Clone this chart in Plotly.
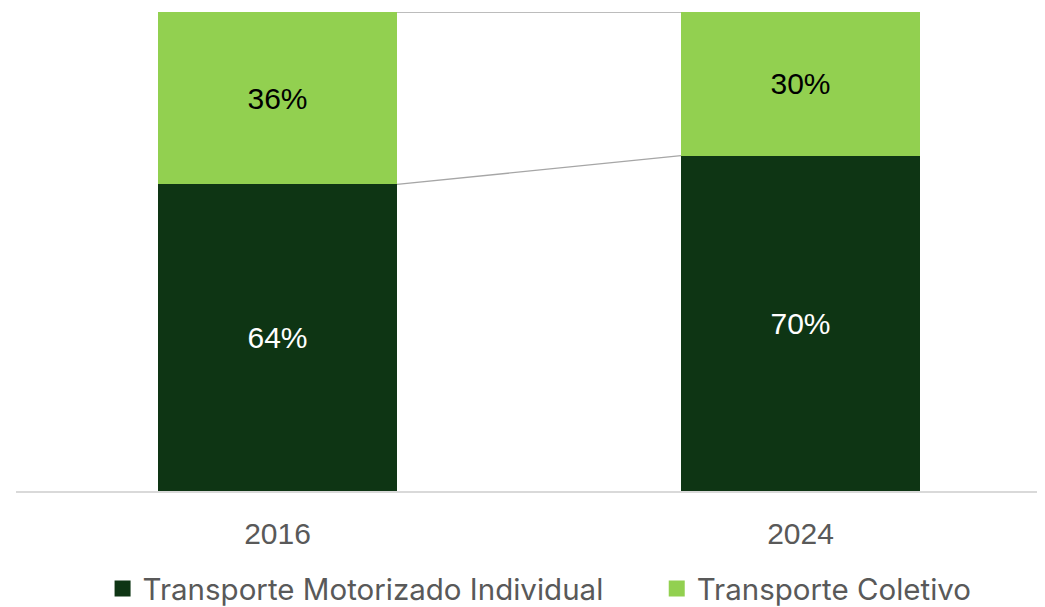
import plotly.graph_objects as go

years = ["2016", "2024"]
individual = [0.64, 0.70]
coletivo = [0.36, 0.30]
series_names = ["Transporte Motorizado Individual", "Transporte Coletivo"]
colors = ["#0E3514", "#92D050"]
label_colors = ["white", "black"]

BAR_W = 0.457
FONT = "Liberation Sans"

fig = go.Figure()
for name, vals, col, lc in zip(series_names, [individual, coletivo], colors, label_colors):
    fig.add_trace(go.Bar(
        x=years, y=vals, name=name, marker=dict(color=col, line=dict(width=0)),
        width=BAR_W, showlegend=False,
        text=[f"{round(v*100)}%" for v in vals],
        textposition="inside", insidetextanchor="middle",
        textfont=dict(color=lc, size=30, family=FONT),
        hoverinfo="skip",
    ))

# legend entries (square markers)
for i, (name, col) in enumerate(zip(series_names, colors)):
    fig.add_trace(go.Scatter(
        x=[None], y=[None], mode="markers", name=name,
        marker=dict(symbol="square", size=16, color=col),
        legend="legend" if i == 0 else "legend2", showlegend=True,
    ))

# series connector lines between the bars
cum = [0, 0]
for vals in [individual, coletivo]:
    cum = [c + v for c, v in zip(cum, vals)]
    fig.add_shape(type="line", xref="x", yref="y",
                  x0=0 + BAR_W / 2, x1=1 - BAR_W / 2, y0=cum[0], y1=cum[1],
                  line=dict(color="#A6A6A6", width=1.3), layer="below")

leg_common = dict(orientation="h", xref="container", yref="container", xanchor="left",
                  yanchor="middle", y=0.043, itemwidth=30, borderwidth=0,
                  bgcolor="rgba(0,0,0,0)",
                  font=dict(size=29.5, color="#595959", family="Inter"))

fig.update_layout(
    barmode="stack",
    width=1045, height=607,
    margin=dict(l=8, r=8, t=4, b=124, autoexpand=False),
    plot_bgcolor="white", paper_bgcolor="white",
    showlegend=True,
    legend=dict(x=0.0905, **leg_common),
    legend2=dict(x=0.6208, **leg_common),
    xaxis=dict(type="category", range=[-0.5, 1.4675], showline=True, linecolor="#D9D9D9",
               linewidth=1.5, ticks="", ticklabelstandoff=15, automargin=False,
               tickfont=dict(size=30, color="#595959", family=FONT),
               showgrid=False, zeroline=False),
    yaxis=dict(range=[0, 1], visible=False, showgrid=False, zeroline=False, automargin=False),
)

fig.write_html("out.html")
